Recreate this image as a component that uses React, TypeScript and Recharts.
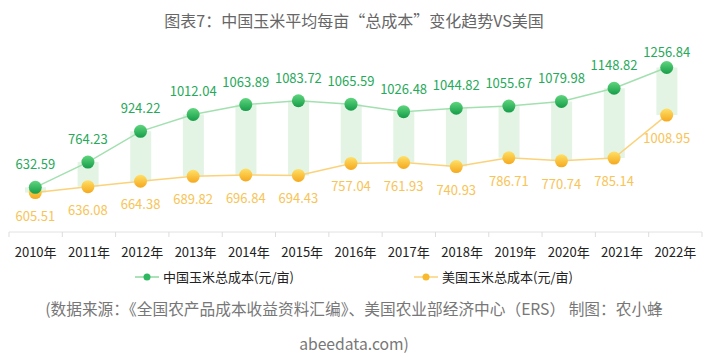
import React from 'react';
import { ComposedChart, Bar, Line, XAxis, YAxis, LabelList } from 'recharts';

const years = ['2010年', '2011年', '2012年', '2013年', '2014年', '2015年', '2016年', '2017年', '2018年', '2019年', '2020年', '2021年', '2022年'];
const chinaCost = [632.59, 764.23, 924.22, 1012.04, 1063.89, 1083.72, 1065.59, 1026.48, 1044.82, 1055.67, 1079.98, 1148.82, 1256.84];
const usCost = [605.51, 636.08, 664.38, 689.82, 696.84, 694.43, 757.04, 761.93, 740.93, 786.71, 770.74, 785.14, 1008.95];
const seriesNames = ['中国玉米总成本(元/亩)', '美国玉米总成本(元/亩)'];

const data = years.map((y, i) => ({ year: y, cn: chinaCost[i], us: usCost[i] }));

const FONT = '"Noto Sans CJK SC", "Noto Sans", sans-serif';
const W = 708;
const M = { top: 40, right: 6, bottom: 0, left: 9 };
const band = (W - M.left - M.right) / years.length;

const GREEN = '#27a95a';
const ORANGE = '#f8c457';

const YearTick = (props: any) => {
  const { x, y, payload, index } = props;
  return (
    <g>
      {index === 0 && <line x1={x - band / 2} x2={x - band / 2} y1={y - 8} y2={y - 3} stroke="#ddd" />}
      <line x1={x + band / 2} x2={x + band / 2} y1={y - 8} y2={y - 3} stroke="#ddd" />
      <text x={x} y={y + 17} textAnchor="middle" fontSize={13} fill="#222" fontFamily={FONT}>
        {payload.value}
      </text>
    </g>
  );
};

const cnLabel = (p: any) => {
  const ty = Math.max(p.y - 18, M.top + 17);
  return (
    <text key={'c' + p.index} x={p.x} y={ty} textAnchor="middle" fontSize={13} fill={GREEN} fontFamily={FONT}>
      {p.value.toFixed(2)}
    </text>
  );
};

const usLabel = (p: any) => {
  return (
    <text key={'u' + p.index} x={p.x} y={p.y + 28} textAnchor="middle" fontSize={13} fill={ORANGE} fontFamily={FONT}>
      {p.value.toFixed(2)}
    </text>
  );
};

// legend drawn in html so it doesn't push the plot around
const LegendBox = () => {
  const items = [
    { name: seriesNames[0], line: '#8fd9a0', dot: '#2fb861' },
    { name: seriesNames[1], line: '#fbd27a', dot: '#f8b92c' },
  ];
  return (
    <div style={{ display: 'flex', justifyContent: 'center', gap: 120, fontFamily: FONT, fontSize: 13, color: '#222' }}>
      {items.map((it) => (
        <div key={it.name} style={{ display: 'flex', alignItems: 'center' }}>
          <svg width={24} height={12} style={{ marginRight: 4 }}>
            <line x1={0} x2={24} y1={6} y2={6} stroke={it.line} strokeWidth={1.5} />
            <circle cx={12} cy={6} r={3.5} fill={it.dot} />
          </svg>
          <span>{it.name}</span>
        </div>
      ))}
    </div>
  );
};

export default function App() {
  return (
    <div style={{ position: 'absolute', left: 0, top: 0, width: W, height: 358, background: '#fff', fontFamily: FONT }}>
      <svg width={0} height={0} style={{ position: 'absolute' }}>
        <defs>
          <linearGradient id="gGreen" x1="0" y1="0" x2="0" y2="1">
            <stop offset="0%" stopColor="#5fd67e" />
            <stop offset="100%" stopColor="#169c48" />
          </linearGradient>
          <linearGradient id="gOrange" x1="0" y1="0" x2="0" y2="1">
            <stop offset="0%" stopColor="#ffe066" />
            <stop offset="100%" stopColor="#f5a81e" />
          </linearGradient>
        </defs>
      </svg>
      <div style={{ position: 'absolute', top: 10, width: W, textAlign: 'center', fontSize: 16, color: '#666', lineHeight: '20px' }}>
        图表7：中国玉米平均每亩“总成本”变化趋势VS美国
      </div>
      <div style={{ position: 'absolute', top: 0, left: 0 }}>
        <ComposedChart width={W} height={262} data={data} margin={M}>
          <XAxis xAxisId="d" dataKey="year" hide height={0} padding={{ left: 0, right: 9 }} />
          <XAxis
            xAxisId="lab"
            dataKey="year"
            height={30}
            axisLine={{ stroke: '#e2e2e2' }}
            tickLine={false}
            tick={<YearTick />}
            interval={0}
          />
          <YAxis hide domain={[400, 1400]} />
          <Bar
            xAxisId="d"
            dataKey={(d: any) => [d.us, d.cn]}
            barSize={21}
            fill="#e3f4e4"
            isAnimationActive={false}
          />
          <Line
            xAxisId="d"
            dataKey="us"
            stroke="#fbd27a"
            strokeWidth={1.5}
            isAnimationActive={false}
            dot={(p: any) => <circle key={'ud' + p.index} cx={p.cx} cy={p.cy} r={6.5} fill="url(#gOrange)" />}
          >
            <LabelList dataKey="us" content={usLabel} />
          </Line>
          <Line
            xAxisId="d"
            dataKey="cn"
            stroke="#a3e0b0"
            strokeWidth={1.5}
            isAnimationActive={false}
            dot={(p: any) => <circle key={'cd' + p.index} cx={p.cx} cy={p.cy} r={6.5} fill="url(#gGreen)" />}
          >
            <LabelList dataKey="cn" content={cnLabel} />
          </Line>
        </ComposedChart>
      </div>
      <div style={{ position: 'absolute', top: 267, left: 0, width: W }}>
        <LegendBox />
      </div>
      <div style={{ position: 'absolute', top: 298, width: W, textAlign: 'center', fontSize: 15.7, color: '#777', lineHeight: '22px' }}>
        (数据来源：《全国农产品成本收益资料汇编》、美国农业部经济中心（ERS） 制图：农小蜂
      </div>
      <div style={{ position: 'absolute', top: 333, width: W, textAlign: 'center', fontSize: 15.7, color: '#777', lineHeight: '22px' }}>
        abeedata.com)
      </div>
    </div>
  );
}
